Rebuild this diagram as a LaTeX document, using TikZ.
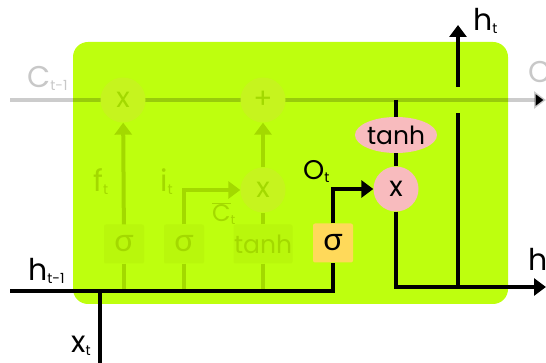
\documentclass[tikz,border=0pt]{standalone}
\usepackage{fontspec}
\setmainfont{Poppins}
\newfontfamily\greekfont{Lato}
\usetikzlibrary{arrows.meta,positioning,shapes.geometric}
\definecolor{cell}{HTML}{BEFF0E}
\definecolor{fade}{HTML}{A3D900}
\definecolor{fadebox}{HTML}{B9F70C}
\definecolor{fadering}{HTML}{C6F41E}
\definecolor{gate}{HTML}{FFD95A}
\definecolor{blush}{HTML}{F8BBBE}
\definecolor{mist}{HTML}{C8C8C8}
\newcommand{\subidx}[2]{#1\raisebox{-3pt}{\fontsize{14}{14}\selectfont #2}}

\begin{document}
\begin{tikzpicture}[x=1pt,y=-1pt,
  lbl/.style={font=\fontsize{30}{30}\selectfont,inner sep=0pt,anchor=base west},
  wire/.style={line width=4pt},
  fadewire/.style={wire,draw=fade},
  tip/.style={-{Triangle[width=17pt,length=12pt]}},
  op/.style={circle,minimum size=45pt,inner sep=0pt,font=\fontsize{28}{28}\selectfont},
  fadeop/.style={op,fill=fadering,text=fade},
  layer/.style={rectangle,minimum width=40pt,minimum height=39pt,rounded corners=2pt,inner sep=0pt,font=\greekfont\fontsize{32}{32}\selectfont},
  fadelayer/.style={layer,fill=fadebox,text=fade}]
  \useasboundingbox (0,0) rectangle (546,363);

  % Cell body
  \fill[cell,rounded corners=15pt] (73,42) rectangle (508,304);

  % Ends of the lines
  \coordinate (cin) at (10,100);
  \coordinate (cout) at (546,100);
  \coordinate (hin) at (10,291);
  \coordinate (hout) at (546,287);
  \coordinate (xin) at (100,363);
  \coordinate (htop) at (458,25);

  % Cell state line
  \draw[wire,draw=black,draw opacity=0.2,tip] (cin) -- (cout);

  % Faded gates
  \node[fadeop] (forgetX) at (123,100) {x};
  \node[fadeop] (addP) at (263,100) {+};
  \node[fadeop] (inputX) at (263,190) {x};
  \node[fadelayer] (sigF) at (124,244) {σ};
  \node[fadelayer] (sigI) at (184,244) {σ};
  \node[fadelayer,minimum width=59pt,font=\fontsize{25}{25}\selectfont] (tanhC) at (263,244) {tanh};

  \foreach \g in {sigF,sigI,tanhC}
    \draw[fadewire] (\g.south) -- (\g.south |- hin);
  \draw[fadewire,tip] (sigF) -- (forgetX);
  \draw[fadewire,tip] (sigI.north) |- (inputX.west);
  \draw[fadewire] (tanhC) -- (inputX);
  \draw[fadewire,tip] (inputX) -- (addP);

  \node[lbl,text=fade] (fLbl) at (93,192) {\subidx{f}{t}};
  \node[lbl,text=fade] (iLbl) at (160,192) {\subidx{i}{t}};
  \node[lbl,text=fade,font=\fontsize{24}{24}\selectfont] (cbarLbl) at (212,222) {$\overline{\mbox{C}}$\raisebox{-3pt}{\fontsize{13}{13}\selectfont t}};

  % Output gate
  \node[layer,fill=gate] (sigO) at (333,243) {σ};
  \node[op,fill=blush] (outX) at (396,189) {x};
  \node[ellipse,fill=blush,minimum width=68pt,minimum height=36pt,inner sep=0pt,font=\fontsize{25}{25}\selectfont] (tanhO) at (396,135) {tanh};

  \draw[wire] (xin) -- (xin |- hin);
  \draw[wire] (hin) -| (sigO.south);
  \draw[wire,tip] (sigO.north) |- (outX.west);
  \draw[wire] (tanhO.north |- cin) -- (tanhO.north);
  \draw[wire] (tanhO) -- (outX);
  \draw[wire,tip] (outX.south) |- (hout);
  \coordinate (split) at (458,287);
  \draw[wire] (split) -- (458,113);
  \draw[wire,tip] (458,87) -- (htop);

  % Labels
  \node[lbl,text=mist] (cPrev) at (27,88) {\subidx{C}{t-1}};
  \node[lbl,text=mist] (cNext) at (528,83) {\subidx{C}{t}};
  \node[lbl] (hPrev) at (28,280) {\subidx{h}{t-1}};
  \node[lbl] (xNow) at (71,352) {\subidx{x}{t}};
  \node[lbl,font=\fontsize{27}{27}\selectfont] (oLbl) at (303,180) {\subidx{O}{t}};
  \node[lbl] (hUp) at (473,31) {\subidx{h}{t}};
  \node[lbl] (hRight) at (528,271) {\subidx{h}{t}};
\end{tikzpicture}
\end{document}
